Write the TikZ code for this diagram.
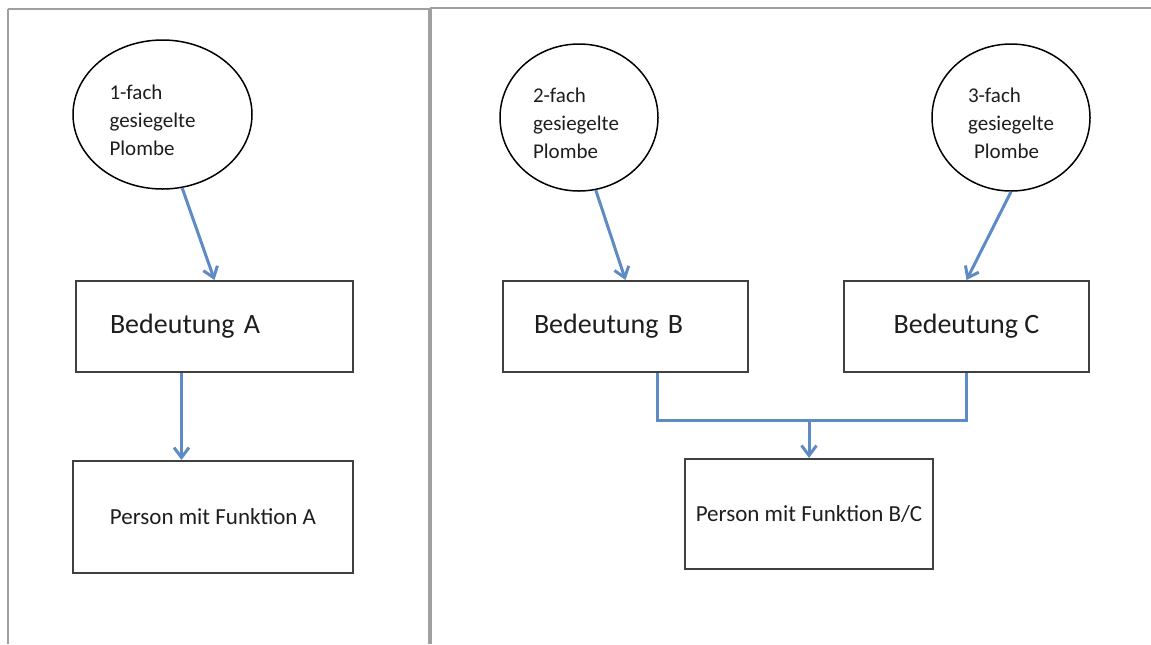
\documentclass[tikz,border=0pt]{standalone}
\usepackage{fontspec}
\setmainfont{Carlito}
\usetikzlibrary{shapes.geometric,arrows.meta}

\begin{document}
\begin{tikzpicture}[x=0.5pt,y=-0.5pt]
  % Key Colors
  \definecolor{framecolor}{RGB}{160,160,160}
  \definecolor{flowcolor} {RGB}{94,139,196}
  \definecolor{boxcolor}  {RGB}{64,64,64}
  \definecolor{textcolor} {RGB}{30,30,30}

  % Local definitions
  \def\sealtop{\rule{0pt}{13pt}}

  % Styles
  \tikzstyle{frame line}=[framecolor]
  \tikzstyle{seal}=[ellipse,draw=black,line width=0.75pt,text=textcolor,align=left,
    inner sep=0pt,font=\fontsize{10.5}{14}\selectfont]
  \tikzstyle{meaning}=[rectangle,draw=boxcolor,line width=1pt,text=textcolor,
    minimum height=45.5pt,font=\fontsize{14}{17}\selectfont]
  \tikzstyle{person}=[rectangle,draw=boxcolor,line width=1pt,text=textcolor,
    minimum height=55pt,font=\fontsize{11.5}{14}\selectfont]
  \tikzstyle{link}=[flowcolor,line width=1.5pt]
  \tikzstyle{flow}=[link,-{Straight Barb[length=5pt,width=7.5pt]}]

  \useasboundingbox (0,0) rectangle (1151,644);

  % The frame
  \draw[frame line,line width=0.75pt] (8,644) -- (8,8.5);
  \draw[frame line,line width=1pt]    (8,8.5) -- (430,8.5);
  \draw[frame line,line width=1pt]    (430,7.5) -- (1151,7.5);
  \draw[frame line,line width=2pt]    (430,7.5) -- (430,644);

  % Seals
  \node[seal,minimum width=89.5pt,minimum height=74.5pt] (seal1) at (162.5,114.5)
    {\sealtop 1-fach\\gesiegelte\rule{10pt}{0pt}\\Plombe};
  \node[seal,minimum width=79pt,minimum height=73.5pt]   (seal2) at (579,117.5)
    {\sealtop 2-fach\\gesiegelte\rule{3pt}{0pt}\\Plombe};
  \node[seal,minimum width=79pt,minimum height=73.5pt]   (seal3) at (1011,117.5)
    {\sealtop 3-fach\\gesiegelte\\\hspace*{3pt}Plombe};

  % Meanings
  \node[meaning,minimum width=138.5pt,text width=104.5pt,align=left,inner xsep=17pt]
    (meanA) at (214.5,326.5) {Bedeutung A};
  \node[meaning,minimum width=122.5pt,text width=91.5pt,align=left,inner xsep=15.5pt]
    (meanB) at (625.5,326.5) {Bedeutung B};
  \node[meaning,minimum width=122.5pt] (meanC) at (966.5,326.5) {Bedeutung C};

  % Persons
  \node[person,minimum width=140pt,minimum height=56pt] (persA) at (213,517)
    {Person mit Funktion A};
  \node[person,minimum width=124pt] (persBC) at (809,514) {Person mit Funktion B/C};

  % Connectors
  \draw[flow] (seal1.285)   -- (meanA.north);
  \draw[flow] (seal2.283)   -- (meanB.north);
  \draw[flow] (seal3.south) -- (meanC.north);
  \draw[flow] ([xshift=-16.5pt]meanA.south) -- ([xshift=-16.5pt]meanA.south |- persA.north);

  \coordinate (rail) at (0,420);
  \draw[link] ([xshift=16pt]meanB.south) |- (rail -| meanC.south) -- (meanC.south);
  \draw[flow] (persBC.north |- rail) -- (persBC.north);

\end{tikzpicture}
\end{document}
